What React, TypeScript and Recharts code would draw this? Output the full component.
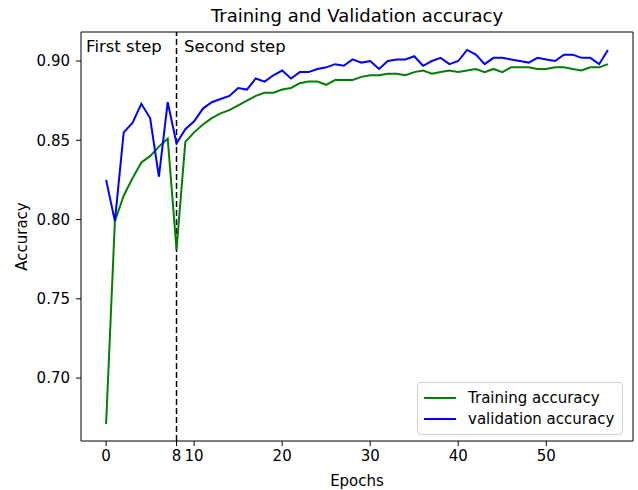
import React from "react";
import {
  LineChart,
  Line,
  XAxis,
  YAxis,
  ReferenceLine,
  ReferenceDot,
  Legend,
} from "recharts";

const epochs = [
  0, 1, 2, 3, 4, 5, 6, 7, 8, 9, 10, 11, 12, 13, 14, 15, 16, 17, 18, 19, 20,
  21, 22, 23, 24, 25, 26, 27, 28, 29, 30, 31, 32, 33, 34, 35, 36, 37, 38, 39,
  40, 41, 42, 43, 44, 45, 46, 47, 48, 49, 50, 51, 52, 53, 54, 55, 56, 57,
];

const trainAcc = [
  0.671, 0.799, 0.815, 0.826, 0.836, 0.84, 0.846, 0.851, 0.781, 0.849, 0.855,
  0.86, 0.864, 0.867, 0.869, 0.872, 0.875, 0.878, 0.88, 0.88, 0.882, 0.883,
  0.886, 0.887, 0.887, 0.885, 0.888, 0.888, 0.888, 0.89, 0.891, 0.891, 0.892,
  0.892, 0.891, 0.893, 0.894, 0.892, 0.893, 0.894, 0.893, 0.894, 0.895, 0.893,
  0.895, 0.893, 0.896, 0.896, 0.896, 0.895, 0.895, 0.896, 0.896, 0.895, 0.894,
  0.896, 0.896, 0.898,
];

const valAcc = [
  0.825, 0.799, 0.855, 0.861, 0.873, 0.864, 0.827, 0.874, 0.848, 0.857, 0.862,
  0.87, 0.874, 0.876, 0.878, 0.883, 0.882, 0.889, 0.887, 0.891, 0.894, 0.889,
  0.893, 0.893, 0.895, 0.896, 0.898, 0.897, 0.901, 0.899, 0.9, 0.895, 0.9,
  0.901, 0.901, 0.903, 0.897, 0.9, 0.902, 0.898, 0.9, 0.907, 0.904, 0.898,
  0.902, 0.902, 0.901, 0.9, 0.899, 0.902, 0.901, 0.9, 0.904, 0.904, 0.902,
  0.902, 0.898, 0.907,
];

const xTicks = [0, 8, 10, 20, 30, 40, 50];
const yTicks = [0.7, 0.75, 0.8, 0.85, 0.9];
const stepEpoch = 8;
const xDomain = [-2.85, 59.85];
const yDomain = [0.6603, 0.9183];

const data = epochs.map((e, i) => ({
  epoch: e,
  train: trainAcc[i],
  val: valAcc[i],
}));

const FONT = "'DejaVu Sans', sans-serif";
const tickStyle = { fontSize: 15, fill: "#000", fontFamily: FONT };

function LegendBox() {
  const rows = [
    { label: "Training accuracy", color: "green" },
    { label: "validation accuracy", color: "blue" },
  ];
  return (
    <div
      style={{
        boxSizing: "border-box",
        width: 206,
        height: 53,
        border: "1px solid #d0d0d0",
        borderRadius: 4,
        background: "rgba(255,255,255,0.8)",
        fontFamily: FONT,
        fontSize: 15,
        color: "#000",
        paddingTop: 4,
      }}
    >
      {rows.map((r) => (
        <div
          key={r.label}
          style={{ display: "flex", alignItems: "center", height: 21 }}
        >
          <div
            style={{
              marginLeft: 6,
              width: 32,
              height: 2,
              background: r.color,
            }}
          />
          <span style={{ marginLeft: 12 }}>{r.label}</span>
        </div>
      ))}
    </div>
  );
}

export default function App() {
  return (
    <div
      style={{
        position: "absolute",
        left: 0,
        top: 0,
        width: 638,
        height: 490,
        background: "#fff",
      }}
    >
      <div
        style={{
          position: "absolute",
          left: 81,
          width: 552,
          top: 5,
          textAlign: "center",
          fontFamily: FONT,
          fontSize: 18,
          color: "#000",
        }}
      >
        Training and Validation accuracy
      </div>
      <LineChart
        width={638}
        height={490}
        data={data}
        margin={{ top: 32, right: 5, bottom: 0, left: 0 }}
      >
        <XAxis
          dataKey="epoch"
          type="number"
          domain={xDomain}
          ticks={xTicks}
          interval={0}
          allowDataOverflow
          height={49}
          tickSize={5}
          tickMargin={4}
          tick={tickStyle}
          stroke="#000"
          label={{
            value: "Epochs",
            position: "insideBottom",
            offset: 4,
            style: { fontSize: 15, fill: "#000", fontFamily: FONT },
          }}
        />
        <YAxis
          type="number"
          domain={yDomain}
          ticks={yTicks}
          allowDataOverflow
          width={81}
          tickSize={5}
          tickMargin={6}
          tick={tickStyle}
          tickFormatter={(v: number) => v.toFixed(2)}
          stroke="#000"
          label={{
            value: "Accuracy",
            angle: -90,
            position: "insideLeft",
            offset: 22,
            style: {
              fontSize: 15,
              fill: "#000",
              fontFamily: FONT,
              textAnchor: "middle",
            },
          }}
        />
        {/* top and right spines */}
        <ReferenceLine y={yDomain[1]} stroke="#000" strokeWidth={1} />
        <ReferenceLine x={xDomain[1]} stroke="#000" strokeWidth={1} />
        <ReferenceLine
          x={stepEpoch}
          stroke="#000"
          strokeWidth={1.5}
          strokeDasharray="6 3"
        />
        <ReferenceDot
          x={-2.27}
          y={0.9091}
          r={0}
          fill="none"
          stroke="none"
          label={{
            value: "First step",
            position: "right",
            offset: 0,
            style: { fontSize: 16.5, fill: "#000", fontFamily: FONT },
          }}
        />
        <ReferenceDot
          x={8.86}
          y={0.9091}
          r={0}
          fill="none"
          stroke="none"
          label={{
            value: "Second step",
            position: "right",
            offset: 0,
            style: { fontSize: 16.5, fill: "#000", fontFamily: FONT },
          }}
        />
        <Line
          type="linear"
          dataKey="train"
          name="Training accuracy"
          stroke="green"
          strokeWidth={2}
          dot={false}
          isAnimationActive={false}
        />
        <Line
          type="linear"
          dataKey="val"
          name="validation accuracy"
          stroke="blue"
          strokeWidth={2}
          dot={false}
          isAnimationActive={false}
        />
        <Legend
          layout="horizontal"
          verticalAlign="middle"
          align="center"
          wrapperStyle={{ left: 417, top: 382, width: 206, height: 53 }}
          content={() => <LegendBox />}
        />
      </LineChart>
    </div>
  );
}
